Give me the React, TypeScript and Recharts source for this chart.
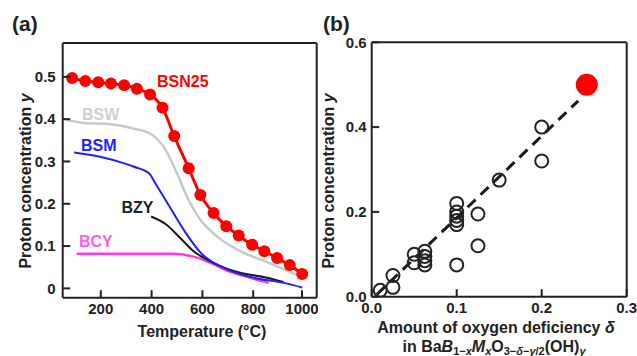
import { ComposedChart, Line, Scatter, XAxis, YAxis, ReferenceLine } from "recharts";

// panel (a): proton concentration vs temperature
const tempTicks = [200, 400, 600, 800, 1000];
const yTicksA = [0, 0.1, 0.2, 0.3, 0.4, 0.5];
const tempMin = 50;
const tempMax = 1050;
const yMinA = -0.022;
const yMaxA = 0.58;

const tBSN25 = [87, 139, 190, 240, 292, 342, 394, 443, 489, 546, 592, 644, 694, 743, 796, 844, 894, 944, 993];
const yBSN25 = [0.497, 0.49, 0.487, 0.484, 0.48, 0.472, 0.458, 0.427, 0.36, 0.284, 0.221, 0.178, 0.147, 0.125, 0.103, 0.088, 0.072, 0.055, 0.034];

const tBSW = [55, 131, 237, 328, 394, 447, 500, 539, 592, 657, 749, 855, 986];
const yBSW = [0.4, 0.391, 0.388, 0.378, 0.366, 0.335, 0.272, 0.217, 0.162, 0.123, 0.088, 0.062, 0.028];

const tBSM = [95, 197, 289, 328, 390, 414, 486, 539, 592, 697, 802, 920, 993];
const yBSM = [0.321, 0.311, 0.296, 0.288, 0.272, 0.249, 0.178, 0.127, 0.085, 0.045, 0.025, 0.013, 0.002];

const tBZY = [398, 460, 513, 565, 618, 723, 855, 920];
const yBZY = [0.17, 0.15, 0.119, 0.088, 0.068, 0.041, 0.025, 0.015];

const tBCY = [105, 300, 486, 565, 618, 697, 789, 861];
const yBCY = [0.082, 0.082, 0.082, 0.075, 0.064, 0.042, 0.025, 0.013];

// panel (b): proton concentration vs oxygen deficiency
const deltaTicks = [0, 0.1, 0.2, 0.3];
const yTicksB = [0, 0.2, 0.4, 0.6];
const deltaMax = 0.3;
const yMaxB = 0.6;

const openDelta = [0.01, 0.025, 0.025, 0.05, 0.05, 0.0625, 0.0625, 0.0625, 0.0625, 0.1, 0.1, 0.1, 0.1, 0.1, 0.1, 0.125, 0.125, 0.15, 0.2, 0.2];
const openY = [0.015, 0.05, 0.022, 0.1, 0.08, 0.107, 0.095, 0.085, 0.075, 0.22, 0.2, 0.19, 0.18, 0.17, 0.075, 0.195, 0.12, 0.275, 0.4, 0.32];

const bsnDelta = [0.253];
const bsnY = [0.5];

const fitDelta = [0.006, 0.243];
const fitY = [0.005, 0.462];

const FONT = '"Liberation Sans", Arial, sans-serif';
const INK = "#222";

const zip = (xs: number[], ys: number[]) => xs.map((x, i) => ({ x, y: ys[i] }));

const fmtA_y = (v: number) => (v === 0 ? "0" : v.toFixed(1));
const fmtInt = (v: number) => String(v);
const fmt1 = (v: number) => v.toFixed(1);

// ticks point into the plot, labels sit outside
function bottomTick(fmt: (v: number) => string) {
  return (p: any) => (
    <g>
      <line x1={p.x} y1={p.y} x2={p.x} y2={p.y - 7.5} stroke={INK} strokeWidth={2} />
      <text x={p.x} y={p.y + 16.5} textAnchor="middle" fontFamily={FONT} fontWeight="bold" fontSize={15} fill={INK}>
        {fmt(p.payload.value)}
      </text>
    </g>
  );
}

function leftTick(fmt: (v: number) => string, gap: number) {
  return (p: any) => (
    <g>
      <line x1={p.x} y1={p.y} x2={p.x + 7.5} y2={p.y} stroke={INK} strokeWidth={2} />
      <text x={p.x - gap} y={p.y + 5.3} textAnchor="end" fontFamily={FONT} fontWeight="bold" fontSize={15} fill={INK}>
        {fmt(p.payload.value)}
      </text>
    </g>
  );
}

const axisStroke = { stroke: INK, strokeWidth: 2 };

function OpenCircle(props: any) {
  return <circle cx={props.cx} cy={props.cy} r={6.5} fill="none" stroke={INK} strokeWidth={2} />;
}

function RedDot(props: any) {
  return <circle cx={props.cx} cy={props.cy} r={11} fill="#ff0000" />;
}

function PanelA() {
  return (
    <ComposedChart width={318} height={356} margin={{ top: 43, right: 1.3, bottom: 0, left: 0 }}>
      <XAxis
        dataKey="x"
        type="number"
        domain={[tempMin, tempMax]}
        ticks={tempTicks}
        allowDataOverflow
        height={58.3}
        axisLine={axisStroke}
        tickLine={false}
        tickSize={0}
        tickMargin={0}
        tick={bottomTick(fmtInt)}
      />
      <YAxis
        dataKey="y"
        type="number"
        domain={[yMinA, yMaxA]}
        ticks={yTicksA}
        allowDataOverflow
        width={62.7}
        axisLine={axisStroke}
        tickLine={false}
        tickSize={0}
        tickMargin={0}
        tick={leftTick(fmtA_y, 7)}
      />
      {/* top and right edges of the frame */}
      <ReferenceLine y={yMaxA} stroke={INK} strokeWidth={2} ifOverflow="visible" />
      <ReferenceLine x={tempMax} stroke={INK} strokeWidth={2} ifOverflow="visible" />
      <Line data={zip(tBCY, yBCY)} dataKey="y" type="monotone" stroke="#ff3ad8" strokeWidth={2.5} dot={false} activeDot={false} isAnimationActive={false} />
      <Line data={zip(tBZY, yBZY)} dataKey="y" type="monotone" stroke="#1a1a1a" strokeWidth={2} dot={false} activeDot={false} isAnimationActive={false} />
      <Line data={zip(tBSM, yBSM)} dataKey="y" type="monotone" stroke="#1f1fff" strokeWidth={2} dot={false} activeDot={false} isAnimationActive={false} />
      <Line data={zip(tBSW, yBSW)} dataKey="y" type="monotone" stroke="#c8c8c8" strokeWidth={2.5} dot={false} activeDot={false} isAnimationActive={false} />
      <Line
        data={zip(tBSN25, yBSN25)}
        dataKey="y"
        type="monotone"
        stroke="#ff0000"
        strokeWidth={3}
        dot={{ r: 6, fill: "#ff0000", stroke: "none" }}
        activeDot={false}
        isAnimationActive={false}
      />
    </ComposedChart>
  );
}

function PanelB() {
  return (
    <ComposedChart width={319} height={356} margin={{ top: 42.3, right: 10.3, bottom: 0, left: 0 }}>
      <XAxis
        dataKey="x"
        type="number"
        domain={[0, deltaMax]}
        ticks={deltaTicks}
        allowDataOverflow
        height={59.3}
        axisLine={axisStroke}
        tickLine={false}
        tickSize={0}
        tickMargin={0}
        tick={bottomTick(fmt1)}
      />
      <YAxis
        dataKey="y"
        type="number"
        domain={[0, yMaxB]}
        ticks={yTicksB}
        allowDataOverflow
        width={53.7}
        axisLine={axisStroke}
        tickLine={false}
        tickSize={0}
        tickMargin={0}
        tick={leftTick(fmt1, 5)}
      />
      <ReferenceLine y={yMaxB} stroke={INK} strokeWidth={2} ifOverflow="visible" />
      <ReferenceLine x={deltaMax} stroke={INK} strokeWidth={2} ifOverflow="visible" />
      <Line
        data={zip(fitDelta, fitY)}
        dataKey="y"
        type="linear"
        stroke="#1a1a1a"
        strokeWidth={3}
        strokeDasharray="11 7"
        dot={false}
        activeDot={false}
        isAnimationActive={false}
      />
      <Scatter data={zip(openDelta, openY)} dataKey="y" shape={OpenCircle} isAnimationActive={false} />
      <Scatter data={zip(bsnDelta, bsnY)} dataKey="y" shape={RedDot} isAnimationActive={false} />
    </ComposedChart>
  );
}

function Overlay() {
  const bold = { fontFamily: FONT, fontWeight: "bold" as const };
  return (
    <svg width={637} height={356} style={{ position: "absolute", left: 0, top: 0, pointerEvents: "none" }}>
      <text x={12} y={31} fontSize={21} fill={INK} {...bold}>(a)</text>
      <text x={323} y={31} fontSize={21} fill={INK} {...bold}>(b)</text>

      <text x={157} y={87} fontSize={16} fill="#ff0000" {...bold}>BSN25</text>
      <text x={82} y={120} fontSize={16} fill="#d0d0d0" {...bold}>BSW</text>
      <text x={81} y={150.5} fontSize={16} fill="#1f1fff" {...bold}>BSM</text>
      <text x={121.5} y={212.5} fontSize={16} fill={INK} {...bold}>BZY</text>
      <text x={79} y={247} fontSize={16} fill="#ff5ce8" {...bold}>BCY</text>

      <text x={31} y={181} fontSize={16} fill={INK} textAnchor="middle" transform="rotate(-90 31 181)" {...bold}>
        Proton concentration <tspan fontStyle="italic">y</tspan>
      </text>
      <text x={202} y={336.5} fontSize={16} fill={INK} textAnchor="middle" {...bold}>
        Temperature (°C)
      </text>

      <text x={334} y={181} fontSize={16} fill={INK} textAnchor="middle" transform="rotate(-90 334 181)" {...bold}>
        Proton concentration <tspan fontStyle="italic">y</tspan>
      </text>
      <text x={496} y={333} fontSize={16} fill={INK} textAnchor="middle" {...bold}>
        Amount of oxygen deficiency <tspan fontStyle="italic">δ</tspan>
      </text>
      <text x={494} y={351.5} fontSize={16} fill={INK} textAnchor="middle" {...bold}>
        in Ba<tspan fontStyle="italic">B</tspan>
        <tspan fontSize={11} dy={3}>1−<tspan fontStyle="italic">x</tspan></tspan>
        <tspan fontStyle="italic" dy={-3}>M</tspan>
        <tspan fontSize={11} fontStyle="italic" dy={3}>x</tspan>
        <tspan dy={-3}>O</tspan>
        <tspan fontSize={11} dy={3}>3−<tspan fontStyle="italic">δ</tspan>−<tspan fontStyle="italic">y</tspan>/2</tspan>
        <tspan dy={-3}>(OH)</tspan>
        <tspan fontSize={11} fontStyle="italic" dy={3}>y</tspan>
      </text>
    </svg>
  );
}

export default function App() {
  return (
    <div style={{ position: "absolute", left: 0, top: 0, width: 637, height: 356, background: "#fff", overflow: "hidden" }}>
      <div style={{ position: "absolute", left: 0, top: 0 }}>
        <PanelA />
      </div>
      <div style={{ position: "absolute", left: 318, top: 0 }}>
        <PanelB />
      </div>
      <Overlay />
    </div>
  );
}
